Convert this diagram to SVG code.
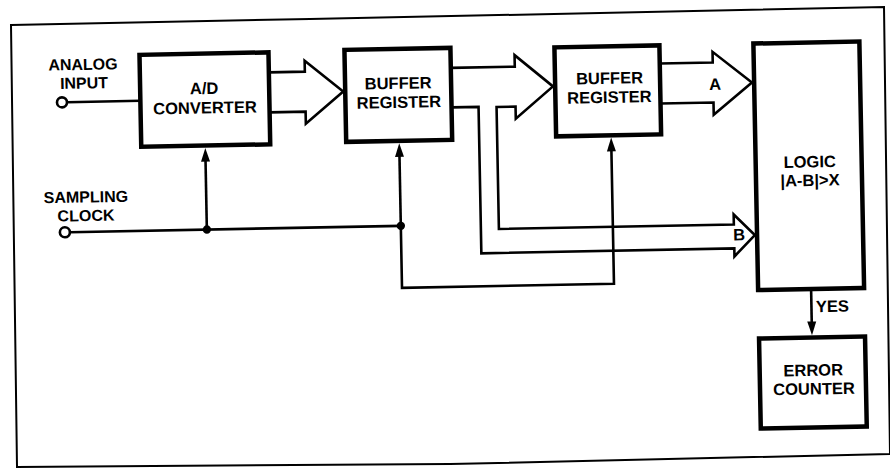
<svg xmlns="http://www.w3.org/2000/svg" width="890" height="470" viewBox="0 0 890 470">
<defs>
<style>
.box{fill:#fff;stroke:#000;stroke-width:4.5}
.ln{fill:none;stroke:#000;stroke-width:2.6;stroke-linejoin:miter}
.t{font-family:"Liberation Sans",Arial,sans-serif;font-weight:bold;font-size:16.5px;fill:#000;text-anchor:middle}
.s{font-size:16px}
.ah{fill:#000}
.frame{fill:none;stroke:#000;stroke-width:2}
</style>
</defs>
<rect width="890" height="470" fill="#fff"/>
<polygon class="frame" points="11,25 310,19 600,13 884,7 890,454 450,464 17,467"/>
<g transform="rotate(-1.1 445 235)">
<g id="connectors">
<line class="ln" x1="69.6" y1="95" x2="143" y2="95"/>
<line class="ln" x1="70" y1="225" x2="401" y2="225"/>
<line class="ln" x1="207" y1="225" x2="207" y2="154"/>
<polygon class="ah" points="207,143.3 202.5,157 211.5,157"/>
<line class="ln" x1="401" y1="225" x2="401" y2="153"/>
<polygon class="ah" points="401,142.3 396.5,156 405.5,156"/>
<polyline class="ln" points="401,225 401,287 613,287 613,152"/>
<polygon class="ah" points="613,140.8 608.5,154.5 617.5,154.5"/>
<circle cx="207" cy="225" r="4.2" fill="#000"/>
<circle cx="401" cy="225" r="4.2" fill="#000"/>
<path class="ln" d="M272 69 H308 V58 L346 89.5 L308 121 V109 H272"/>
<path class="ln" d="M454 68 H518 V56.5 L555.8 88.5 L518 120 V108 H499 V230 H734 V220 L754.8 241 L734 262 V254 H481 V107.5 H454"/>
<path class="ln" d="M663 67.7 H716 V57 L754.8 88.5 L716 120 V107.7 H663"/>
<line class="ln" x1="810" y1="298" x2="810" y2="330"/>
<polygon class="ah" points="810,342.3 805.5,328.5 814.5,328.5"/>
<circle cx="64.6" cy="95" r="5" fill="#fff" stroke="#000" stroke-width="2.6"/>
<circle cx="65" cy="225" r="5" fill="#fff" stroke="#000" stroke-width="2.6"/>
</g>
<g id="analog-input">
<text class="t s" x="86.3" y="63">ANALOG</text>
<text class="t s" x="87" y="81.6">INPUT</text>
</g>
<g id="sampling-clock">
<text class="t s" x="86.7" y="195.6">SAMPLING</text>
<text class="t s" x="86.4" y="214.2">CLOCK</text>
</g>
<g id="ad-converter">
<rect class="box" x="143" y="49" width="129" height="92"/>
<text class="t" x="207" y="89.4">A/D</text>
<text class="t" x="207.4" y="108.9">CONVERTER</text>
</g>
<g id="buffer-register-1">
<rect class="box" x="348" y="48" width="106" height="92"/>
<text class="t" x="401" y="88">BUFFER</text>
<text class="t" x="401.5" y="107">REGISTER</text>
</g>
<g id="buffer-register-2">
<rect class="box" x="558" y="49.5" width="105" height="89"/>
<text class="t" x="612.5" y="87">BUFFER</text>
<text class="t" x="612" y="106">REGISTER</text>
</g>
<g id="label-a"><text class="t" x="718" y="95">A</text></g>
<g id="label-b"><text class="t" x="739" y="246">B</text></g>
<g id="logic">
<rect class="box" x="757" y="49.5" width="106" height="246.5"/>
<text class="t" x="811" y="174.5">LOGIC</text>
<text class="t" x="811" y="193">|A-B|&gt;X</text>
</g>
<g id="label-yes"><text class="t" x="831" y="319.4">YES</text></g>
<g id="error-counter">
<rect class="box" x="757" y="344.5" width="106" height="90"/>
<text class="t" x="810.5" y="383">ERROR</text>
<text class="t" x="811" y="401.6">COUNTER</text>
</g>
</g>
</svg>
